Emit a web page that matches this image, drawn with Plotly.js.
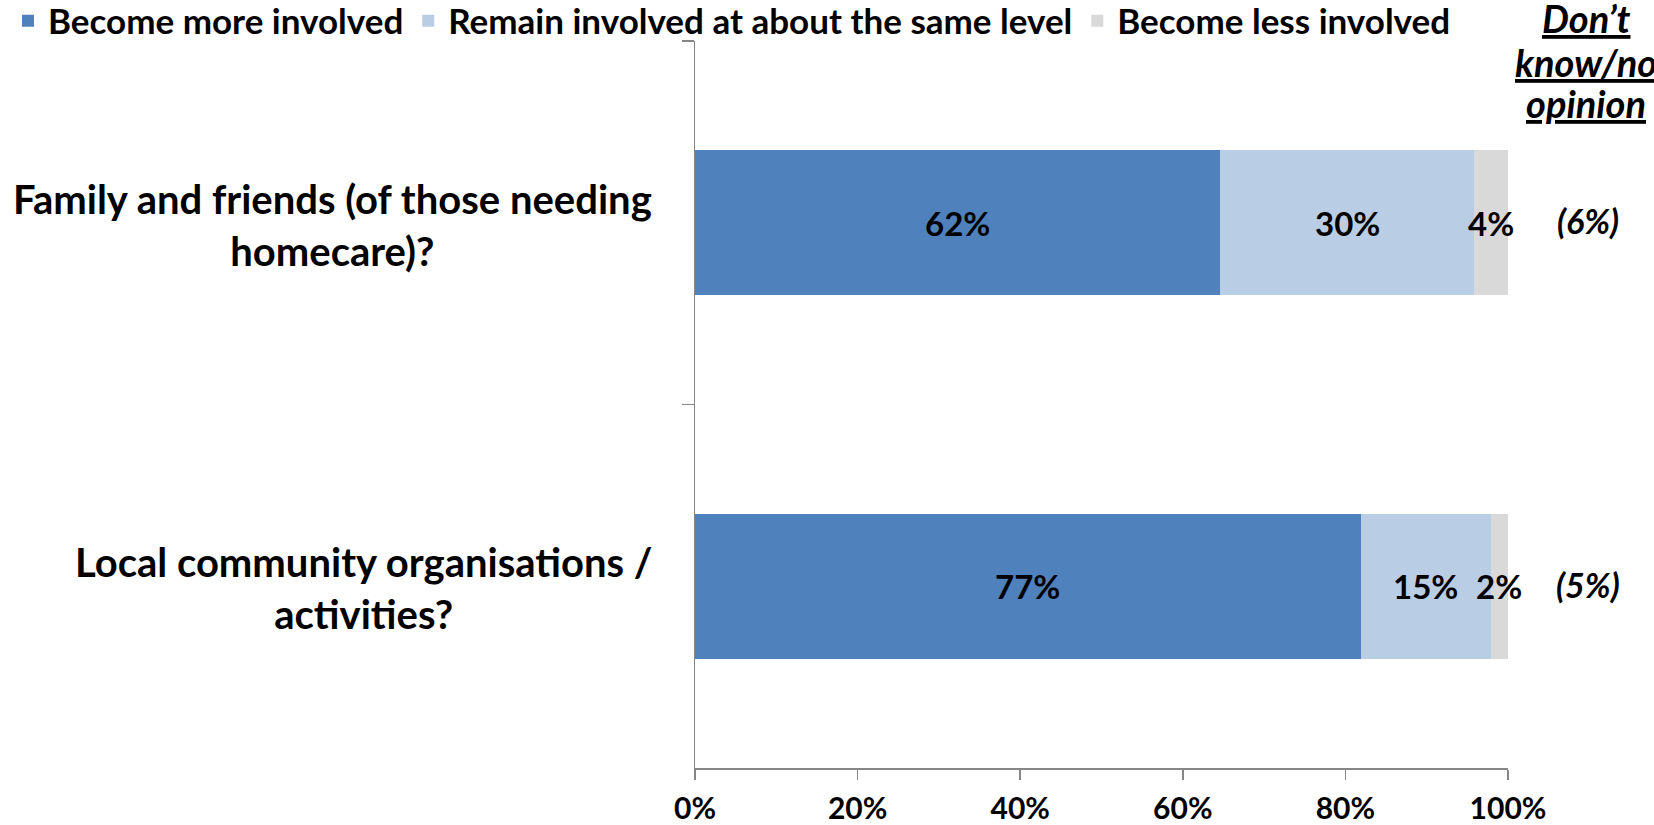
<!DOCTYPE html>
<html>
<head>
<meta charset="utf-8">
<script src="https://cdn.plot.ly/plotly-3.0.1.min.js"></script>
<style>html,body{margin:0;padding:0;background:#fff;}#chart{width:1654px;height:825px;}</style>
</head>
<body>
<div id="chart"></div>
<script>
var categories = ["Family and friends (of those needing<br>homecare)?", "Local community organisations /<br>activities?"];
var moreInvolved = [62, 77];
var sameLevel = [30, 15];
var lessInvolved = [4, 2];
var dontKnow = [6, 5];
var seriesNames = ["Become more involved", "Remain involved at about the same level", "Become less involved"];
var seriesColors = ["#4F81BD", "#B9CDE5", "#D9D9D9"];
var xTickVals = [0, 20, 40, 60, 80, 100];
var xTickText = ["0%", "20%", "40%", "60%", "80%", "100%"];

var FONT = "Lato, Liberation Sans, Arial, sans-serif";

var seriesValues = [moreInvolved, sameLevel, lessInvolved];
var traces = seriesValues.map(function(vals, i){
  return {
    type: "bar",
    orientation: "h",
    name: "<b>" + seriesNames[i] + "</b>",
    y: categories,
    x: vals,
    marker: {color: seriesColors[i]},
    hoverinfo: "none"
  };
});

var PL = 695, PR = 1508, PT = 41, PB = 768;
var annotations = [];

// data labels: centred in each normalised segment (barnorm = percent)
categories.forEach(function(c, ci){
  var total = 0;
  seriesValues.forEach(function(vals){ total += vals[ci]; });
  var cum = 0;
  seriesValues.forEach(function(vals){
    var v = vals[ci];
    annotations.push({
      xref: "x", yref: "y", x: (cum + v / 2) / total * 100, y: c,
      xanchor: "center", yanchor: "middle", showarrow: false,
      text: "<b>" + v + "%</b>",
      font: {family: FONT, size: 33, color: "#000"}
    });
    cum += v;
  });
});

categories.forEach(function(c, i){
  annotations.push({
    xref: "paper", yref: "y", x: 0, y: c, xanchor: "right", yanchor: "middle",
    xshift: -41, yshift: -2, align: "center", showarrow: false,
    text: "<b>" + c + "</b>",
    font: {family: FONT, size: 40, color: "#000"}
  });
  annotations.push({
    xref: "paper", yref: "y", x: (1588 - PL) / (PR - PL), y: c, xanchor: "center", yanchor: "middle",
    yshift: 2, showarrow: false,
    text: "<b><i>(" + dontKnow[i] + "%)</i></b>",
    font: {family: FONT, size: 34, color: "#000"}
  });
});
var headerLines = ["Don\u2019t", "know/no", "opinion"];
var headerY = [18, 62, 103];
headerLines.forEach(function(t, i){
  annotations.push({
    xref: "paper", yref: "paper", x: (1586 - PL) / (PR - PL), y: (PB - headerY[i]) / (PB - PT),
    xanchor: "center", yanchor: "middle", showarrow: false,
    text: "<b><i><u>" + t + "</u></i></b>",
    font: {family: FONT, size: 38, color: "#000"}
  });
});

var layout = {
  width: 1654, height: 825,
  margin: {l: PL, r: 1654 - PR, t: PT, b: 825 - PB, pad: 0, autoexpand: false},
  paper_bgcolor: "#fff", plot_bgcolor: "#fff",
  barmode: "stack", barnorm: "percent", bargap: 0.6,
  showlegend: true,
  legend: {
    orientation: "h", xref: "paper", yref: "paper",
    x: (8 - PL) / (PR - PL), y: 1 + (PT - 21) / (PB - PT), xanchor: "left", yanchor: "middle",
    font: {family: FONT, size: 35, color: "#000"},
    traceorder: "normal", bgcolor: "rgba(0,0,0,0)", itemclick: false
  },
  xaxis: {
    range: [0, 100], fixedrange: true,
    tickvals: xTickVals, ticktext: xTickText.map(function(t){return "<b>"+t+"</b>";}),
    tickfont: {family: FONT, size: 30, color: "#000"},
    ticks: "outside", ticklen: 10, tickcolor: "#868686", tickwidth: 1.5,
    ticklabelstandoff: 3,
    showline: true, linecolor: "#868686", linewidth: 1.5,
    showgrid: false, zeroline: false, automargin: false
  },
  yaxis: {
    type: "category", autorange: "reversed", fixedrange: true,
    showticklabels: false, tickson: "boundaries",
    ticks: "outside", ticklen: 12, tickcolor: "#868686", tickwidth: 1.5,
    showline: true, linecolor: "#868686", linewidth: 1.5,
    showgrid: false, zeroline: false, automargin: false
  },
  annotations: annotations
};

Plotly.newPlot("chart", traces, layout, {displayModeBar: false, staticPlot: true});
</script>
</body>
</html>
